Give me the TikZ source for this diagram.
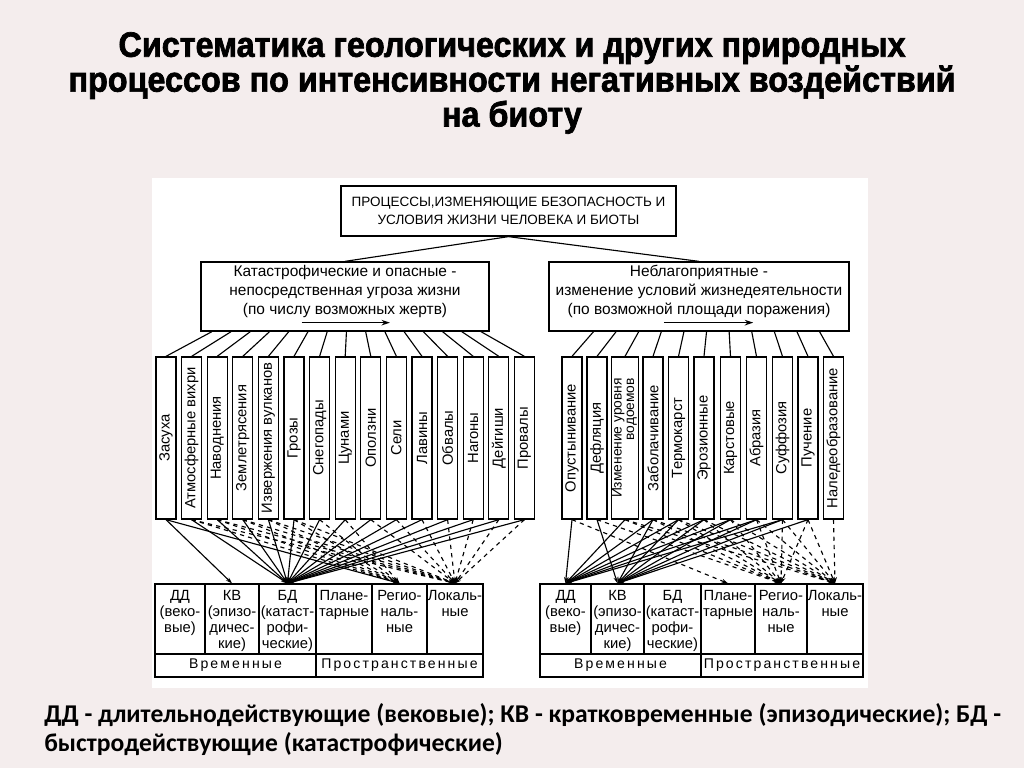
\documentclass[tikz,border=0pt]{standalone}
\usepackage{fontspec}
\setmainfont{Liberation Sans}
\newfontfamily\titlefont[FakeBold=2,FakeStretch=0.92]{Liberation Sans Bold}
\newfontfamily\legendfont{Carlito}
\newfontfamily\spacedfont[LetterSpace=15]{Liberation Sans}
\usepackage{tikz}
\usetikzlibrary{arrows.meta,calc}
\definecolor{bgpink}{HTML}{F4EDED}
\newcommand{\cattext}[2]{\parbox[c][1.725cm][t]{#1}{\centering\vspace*{2.5pt}#2}}
\newcommand{\celltext}[2]{\parbox[c][1.75cm][t]{#1}{\centering\vspace*{4.5pt}#2}}
\tikzset{
  topbox/.style={draw, line width=0.9pt, align=center, inner sep=0pt, minimum width=8.375cm, minimum height=1.25cm, font=\fontsize{9.6}{12.4}\selectfont},
  catbox/.style={draw, line width=0.9pt, inner sep=0pt, font=\fontsize{11}{13.5}\selectfont},
  vbox/.style={draw, line width=0.9pt, inner sep=0pt, minimum width=0.5cm, minimum height=4.05cm, font=\fontsize{10.5}{11}\selectfont},
  cell/.style={draw, line width=0.9pt, inner sep=0pt, font=\fontsize{10.5}{11.3}\selectfont},
  rowcell/.style={draw, line width=0.9pt, inner sep=0pt, minimum height=0.575cm, font=\spacedfont\fontsize{10}{11}\selectfont},
  fan/.style={line width=0.8pt},
  link/.style={line width=0.8pt, -{Stealth[length=4.5pt,width=3pt]}},
  dlink/.style={link, dashed}
}
\begin{document}
\begin{tikzpicture}[x=0.025cm, y=-0.025cm, >=Stealth]
\useasboundingbox (0,0) rectangle (1024,768);
\fill[bgpink] (0,0) rectangle (1024,768);
\fill[white] (152,178) rectangle (868,688);

\node[font=\titlefont\fontsize{25}{24.8}\selectfont, align=center] (title) at (512,83) {Систематика геологических и других природных\\процессов по интенсивности негативных воздействий\\на биоту};
\node[font=\legendfont\bfseries\fontsize{18.2}{20.6}\selectfont, align=left, anchor=north west, inner sep=0pt] (legend) at (44,703) {ДД - длительнодействующие (вековые); КВ - кратковременные (эпизодические); БД -\\быстродействующие (катастрофические)};

% top level
\node[topbox] (root) at (508.5,211) {ПРОЦЕССЫ,ИЗМЕНЯЮЩИЕ БЕЗОПАСНОСТЬ И\\УСЛОВИЯ ЖИЗНИ ЧЕЛОВЕКА И БИОТЫ};
\node[catbox] (catL) at (345,296.5) {\cattext{7.2cm}{Катастрофические и опасные -\\непосредственная угроза жизни\\(по числу возможных жертв)}};
\node[catbox] (catR) at (699,296.5) {\cattext{7.5cm}{Неблагоприятные -\\изменение условий жизнедеятельности\\(по возможной площади поражения)}};
\draw[fan] (root.south) -- (catL.north);
\draw[fan] (root.south) -- (catR.north);
\draw[-{Stealth[length=6pt,width=4pt]}, line width=0.9pt] ($(catL.south west)!0.35!(catL.south east)+(0,-9)$) -- ($(catL.south west)!0.655!(catL.south east)+(0,-9)$);
\draw[-{Stealth[length=6pt,width=4pt]}, line width=0.9pt] ($(catR.south west)!0.383!(catR.south east)+(0,-9)$) -- ($(catR.south west)!0.68!(catR.south east)+(0,-9)$);

% processes
\foreach \i/\t in {1/Засуха, 2/Атмосферные вихри, 3/Наводнения, 4/Землетрясения, 5/Извержения вулканов, 6/Грозы, 7/Снегопады, 8/Цунами, 9/Оползни, 10/Сели, 11/Лавины, 12/Обвалы, 13/Нагоны, 14/Дейгиши, 15/Провалы}
  \node[vbox] (L\i) at ({166+(\i-1)*25.6},438) {\rotatebox{90}{\t}};
\foreach \i/\x/\t in {1/572/Опустынивание, 2/597/Дефляция, 4/653/Заболачивание, 5/678.5/Термокарст, 6/704/Эрозионные, 7/730.5/Карстовые, 8/756.5/Абразия, 9/782.5/Суффозия, 10/808/Пучение, 11/833.5/Наледеобразование}
  \node[vbox] (R\i) at (\x,438) {\rotatebox{90}{\t}};
\node[vbox, minimum width=0.675cm] (R3) at (625,438) {\rotatebox{90}{\fontsize{9.8}{10}\selectfont\renewcommand{\arraystretch}{0.9}\begin{tabular}{@{}r@{}}Изменение уровня\\водоемов\end{tabular}}};

\foreach \i in {1,...,15} {
  \pgfmathsetmacro\f{0.04+(\i-1)*0.93/14}
  \draw[fan] ($(catL.south west)!\f!(catL.south east)$) -- (L\i.north);
}
\foreach \i in {1,...,11} {
  \pgfmathsetmacro\f{0.15+(\i-1)*0.75/10}
  \draw[fan] ($(catR.south west)!\f!(catR.south east)$) -- (R\i.north);
}

% tables
\node[cell] (tL1) at (180,619) {\celltext{1.25cm}{ДД\\(веко-\\вые)}};
\node[cell] (tL2) at (232,619) {\celltext{1.35cm}{КВ\\(эпизо-\\дичес-\\кие)}};
\node[cell] (tL3) at (287.5,619) {\celltext{1.425cm}{БД\\(катаст-\\рофи-\\ческие)}};
\node[cell] (tL4) at (344,619) {\celltext{1.4cm}{Плане-\\тарные}};
\node[cell] (tL5) at (399.5,619) {\celltext{1.375cm}{Регио-\\наль-\\ные}};
\node[cell] (tL6) at (455,619) {\celltext{1.4cm}{Локаль-\\ные}};
\node[rowcell, minimum width=4.025cm] (tLt) at (235.5,665.5) {Временные};
\node[rowcell, minimum width=4.175cm] (tLs) at (399.5,665.5) {Пространственные};

\node[cell] (tR1) at (565.5,619) {\celltext{1.275cm}{ДД\\(веко-\\вые)}};
\node[cell] (tR2) at (617.5,619) {\celltext{1.325cm}{КВ\\(эпизо-\\дичес-\\кие)}};
\node[cell] (tR3) at (672.5,619) {\celltext{1.425cm}{БД\\(катаст-\\рофи-\\ческие)}};
\node[cell] (tR4) at (728,619) {\celltext{1.35cm}{Плане-\\тарные}};
\node[cell] (tR5) at (781,619) {\celltext{1.3cm}{Регио-\\наль-\\ные}};
\node[cell] (tR6) at (835,619) {\celltext{1.4cm}{Локаль-\\ные}};
\node[rowcell, minimum width=4.025cm] (tRt) at (620.5,665.5) {Временные};
\node[rowcell, minimum width=4.05cm] (tRs) at (782,665.5) {Пространственные};

% links, left
\draw[link] (L1.south) -- (tL2.north);
\draw[link] (L1.south) -- (tL5.north);
\foreach \i in {2,...,15} \draw[link] (L\i.south) -- (tL3.north);
\foreach \i in {2,...,8} \draw[dlink] (L\i.south) -- (tL5.north);
\foreach \i in {2,3,4,5,6,9,10,11,12,13,14,15} \draw[dlink] (L\i.south) -- (tL6.north);

% links, right
\draw[link] (R1.south) -- (tR1.north);
\draw[link] (R2.south) -- (tR2.north);
\draw[dlink] (R1.south) -- (tR4.north);
\foreach \i in {3,...,9} \draw[link] (R\i.south) -- (tR1.north);
\foreach \i in {4,...,10} \draw[link] (R\i.south) -- (tR2.north);
\foreach \i in {2,...,10} \draw[dlink] (R\i.south) -- (tR5.north);
\foreach \i in {3,...,11} \draw[dlink] (R\i.south) -- (tR6.north);
\end{tikzpicture}
\end{document}
